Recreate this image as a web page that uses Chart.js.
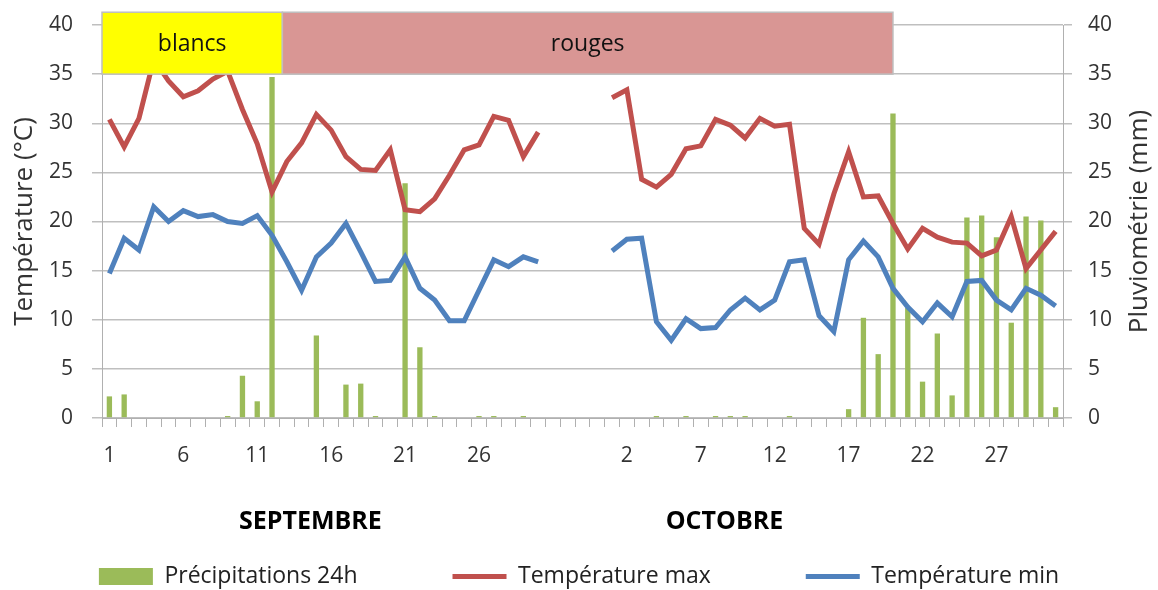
<!DOCTYPE html>
<html>
<head>
<meta charset="utf-8">
<script src="https://cdn.jsdelivr.net/npm/chart.js@4.4.1/dist/chart.umd.min.js"></script>
<style>
  body { margin: 0; background: #fff; }
  #wrap { width: 1158px; height: 590px; }
</style>
</head>
<body>
<div id="wrap"><canvas id="myChart" width="1158" height="590"></canvas></div>
<script>
// Day labels: September, a 4-day gap, then October
const sepDays = Array.from({ length: 30 }, (_, i) => String(i + 1));
const gapDays = ['', '', '', ''];
const octDays = Array.from({ length: 31 }, (_, i) => String(i + 1));

// Rainfall (mm)
const rainSep = [2.2, 2.4, 0, 0, 0, 0, 0, 0, 0.2, 4.3, 1.7, 34.7, 0, 0, 8.4, 0, 3.4, 3.5, 0.2, 0,
  23.9, 7.2, 0.2, 0, 0, 0.2, 0.2, 0, 0.2, 0];
const rainOct = [0, 0, 0, 0.2, 0, 0.2, 0, 0.2, 0.2, 0.2, 0, 0, 0.2, 0, 0, 0, 0.9, 10.2, 6.5, 31.0,
  11.2, 3.7, 8.6, 2.3, 20.4, 20.6, 18.4, 9.7, 20.5, 20.1, 1.1];

// Max temperature (°C)
const tmaxSep = [30.4, 27.6, 30.5, 36.5, 34.3, 32.7, 33.3, 34.5, 35.3, 31.4, 27.9, 23.0, 26.1, 28.0, 30.9,
  29.3, 26.6, 25.3, 25.2, 27.3, 21.2, 21.0, 22.3, 24.7, 27.3, 27.8, 30.7, 30.3, 26.6, 29.1];
const tmaxOct = [32.6, 33.4, 24.3, 23.5, 24.8, 27.4, 27.7, 30.4, 29.8, 28.5, 30.5, 29.7, 29.9, 19.3, 17.7,
  22.8, 27.1, 22.5, 22.6, 19.8, 17.2, 19.3, 18.4, 17.9, 17.8, 16.5, 17.1, 20.5, 15.2, 17.1, 19.0];

// Min temperature (°C)
const tminSep = [14.7, 18.3, 17.1, 21.5, 20.0, 21.1, 20.5, 20.7, 20.0, 19.8, 20.6, 18.6, 15.9, 13.0, 16.4,
  17.8, 19.8, 16.9, 13.9, 14.0, 16.4, 13.2, 12.0, 9.9, 9.9, 13.0, 16.1, 15.4, 16.4, 15.9];
const tminOct = [17.0, 18.2, 18.3, 9.8, 7.9, 10.1, 9.1, 9.2, 11.0, 12.2, 11.0, 12.0, 15.9, 16.1, 10.4,
  8.8, 16.1, 18.0, 16.4, 13.2, 11.3, 9.8, 11.7, 10.3, 13.9, 14.0, 12.0, 11.0, 13.2, 12.5, 11.4];

// Harvest bands across the top (category index units, °C units)
const bandNames = ['blancs', 'rouges'];
const bandFrom = [-0.5, 11.7];
const bandTo = [11.7, 53];
const bandColors = ['#FFFF00', '#D99694'];
const bandLow = 35;
const bandHigh = 41.3;

// Month captions under the axis (category index)
const monthNames = ['SEPTEMBRE', 'OCTOBRE'];
const monthAt = [13.6, 41.6];

const rightTitle = 'Pluviométrie (mm)';

const gapNulls = gapDays.map(() => null);
const labels = [...sepDays, ...gapDays, ...octDays];
const rain = [...rainSep, ...gapNulls, ...rainOct];
const tmax = [...tmaxSep, ...gapNulls, ...tmaxOct];
const tmin = [...tminSep, ...gapNulls, ...tminOct];

Chart.defaults.font.family = "'Open Sans', sans-serif";
Chart.defaults.color = '#333';

const gridGrey = '#bfbfbf';
const axisGrey = '#b0b0b0';

// Bands, month captions and right axis title
const extras = {
  id: 'extras',
  afterDatasetsDraw(chart) {
    const ctx = chart.ctx;
    const x = chart.scales.x;
    const y = chart.scales.y;
    ctx.save();
    for (let i = 0; i < bandNames.length; i++) {
      const x0 = x.getPixelForValue(bandFrom[i]);
      const x1 = x.getPixelForValue(bandTo[i]);
      const y0 = y.getPixelForValue(bandHigh);
      const y1 = y.getPixelForValue(bandLow);
      ctx.fillStyle = bandColors[i];
      ctx.fillRect(x0, y0, x1 - x0, y1 - y0);
      ctx.strokeStyle = gridGrey;
      ctx.lineWidth = 1.5;
      ctx.strokeRect(x0, y0, x1 - x0, y1 - y0);
      ctx.fillStyle = '#111';
      ctx.font = "23px 'Open Sans'";
      ctx.textAlign = 'center';
      ctx.textBaseline = 'middle';
      ctx.fillText(bandNames[i], (x0 + x1) / 2, (y0 + y1) / 2 + 1);
    }
    ctx.restore();
  },
  afterDraw(chart) {
    const ctx = chart.ctx;
    const x = chart.scales.x;
    const area = chart.chartArea;
    ctx.save();
    ctx.fillStyle = '#000';
    ctx.font = "bold 25px 'Open Sans'";
    ctx.textAlign = 'center';
    ctx.textBaseline = 'middle';
    monthNames.forEach((m, i) => {
      ctx.fillText(m, x.getPixelForValue(monthAt[i]), area.bottom + 104);
    });
    // right title reads bottom to top
    ctx.translate(1140, (area.top + area.bottom) / 2);
    ctx.rotate(-Math.PI / 2);
    ctx.font = "26px 'Open Sans'";
    ctx.fillStyle = '#333';
    ctx.fillText(rightTitle, 0, 0);
    ctx.restore();
  }
};

// keep tick label overflow from pushing the plot area down
function fixSide(width) {
  return function (s) {
    s.width = width;
    s.paddingTop = 0;
    s.paddingBottom = 0;
  };
}

const ctx = document.getElementById('myChart');

const myChart = new Chart(ctx, {
  type: 'bar',
  data: {
    labels: labels,
    datasets: [{
      type: 'bar',
      label: 'Précipitations 24h',
      data: rain,
      yAxisID: 'y1',
      backgroundColor: '#9BBB59',
      borderWidth: 0,
      barPercentage: 0.36,
      categoryPercentage: 1,
      order: 3
    }, {
      type: 'line',
      label: 'Température max',
      data: tmax,
      yAxisID: 'y',
      borderColor: '#C0504D',
      backgroundColor: '#C0504D',
      borderWidth: 5,
      pointRadius: 0,
      tension: 0,
      spanGaps: false,
      order: 2
    }, {
      type: 'line',
      label: 'Température min',
      data: tmin,
      yAxisID: 'y',
      borderColor: '#4F81BD',
      backgroundColor: '#4F81BD',
      borderWidth: 5,
      pointRadius: 0,
      tension: 0,
      spanGaps: false,
      order: 1
    }]
  },
  options: {
    responsive: false,
    animation: false,
    layout: { padding: { top: 25, bottom: -8, left: 0, right: 0 } },
    plugins: {
      tooltip: { enabled: false },
      legend: {
        position: 'bottom',
        labels: {
          usePointStyle: true,
          pointStyleWidth: 54,
          boxHeight: 17,
          padding: 95,
          color: '#222',
          font: { size: 23 },
          sort: (a, b) => a.datasetIndex - b.datasetIndex,
          generateLabels(chart) {
            const items = Chart.defaults.plugins.legend.labels.generateLabels(chart);
            items.forEach((it) => { it.pointStyle = it.datasetIndex === 0 ? 'rect' : 'line'; });
            return items;
          }
        }
      }
    },
    scales: {
      x: {
        offset: true,
        grid: { offset: true, drawOnChartArea: false, drawTicks: true, tickLength: 9, color: axisGrey },
        border: { color: axisGrey },
        ticks: {
          autoSkip: false,
          maxRotation: 0,
          padding: 16,
          font: { size: 21 },
          callback: function (value, index) {
            return index % 5 === 0 ? this.getLabelForValue(value) : '';
          }
        },
        afterFit(s) { s.height = 52; }
      },
      y: {
        position: 'left',
        min: 0,
        max: 40,
        ticks: { stepSize: 5, padding: 19, font: { size: 21 } },
        grid: { color: gridGrey, lineWidth: 1.5, tickLength: 10 },
        border: { color: axisGrey },
        title: {
          display: true,
          text: 'Température (°C)',
          font: { size: 26 },
          padding: { top: 9, bottom: 0 }
        },
        afterFit: fixSide(102)
      },
      y1: {
        position: 'right',
        min: 0,
        max: 40,
        ticks: { stepSize: 5, padding: 16, font: { size: 21 } },
        grid: { drawOnChartArea: false, color: gridGrey, lineWidth: 1.5, tickLength: 9 },
        border: { color: axisGrey },
        afterFit: fixSide(95)
      }
    }
  },
  plugins: [extras]
});
</script>
</body>
</html>
